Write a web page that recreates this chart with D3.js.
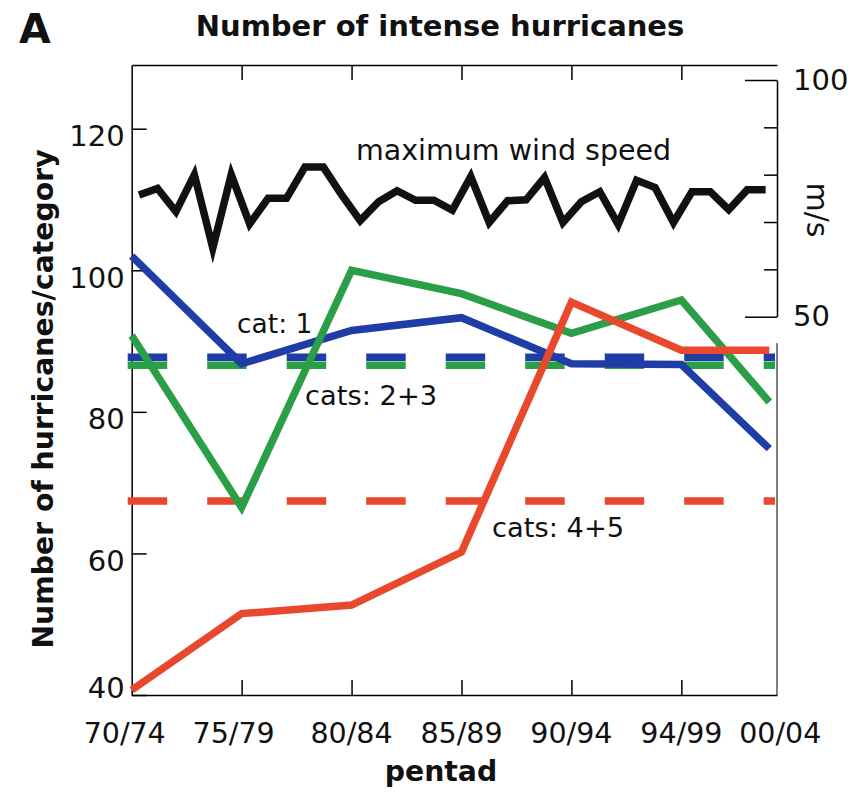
<!DOCTYPE html>
<html>
<head>
<meta charset="utf-8">
<script src="https://cdn.jsdelivr.net/npm/d3@7"></script>
<style>
  body { margin: 0; background: #fff; }
  svg { display: block; font-family: "DejaVu Sans", sans-serif; }
</style>
</head>
<body>
<svg id="chart" width="862" height="794"></svg>
<script>
// pentads on the x axis (the last one is squeezed against the frame in the original)
const pentads = ["70/74", "75/79", "80/84", "85/89", "90/94", "94/99", "00/04"];
const pentadSlot = [0, 1, 2, 3, 4, 5, 5.8];

// number of hurricanes per category group
const cat1 = [102, 86.8, 91.5, 93.3, 86.8, 86.7, 74.8];
const cat23 = [90.8, 66.5, 100, 96.7, 91.1, 95.8, 81.4];
const cat45 = [40.7, 51.5, 52.7, 60.2, 95.5, 88.7, 88.7];

// long-term means (dashed)
const cat1Mean = 87.7;
const cat23Mean = 86.6;
const cat45Mean = 67.4;

// yearly maximum wind speed, m/s (1970-2004)
const windYears = d3.range(1970, 2005);
const windSpeed = [75.7, 77.1, 72.2, 80.0, 64.5, 80.0, 69.6, 75.0, 75.0, 81.6,
                   81.6, 75.7, 70.3, 74.3, 76.6, 74.6, 74.6, 72.5, 79.6, 69.9,
                   74.5, 74.7, 79.4, 69.9, 74.3, 76.4, 69.5, 78.8, 77.3, 69.9,
                   76.4, 76.4, 72.6, 76.8, 76.8];

const leftTicks = [40, 60, 80, 100, 120];
const rightTicks = [50, 60, 70, 80, 90, 100];
const rightLabels = [50, 100];

const colors = {cat1: "#1f3da6", cat23: "#2a9f48", cat45: "#e8482c", wind: "#111"};

const svg = d3.select("#chart");

const x = d3.scaleLinear().domain([0, 5.87]).range([131.7, 777]);
const y = d3.scaleLinear().domain([40, 129]).range([695, 65]);
const yWind = d3.scaleLinear().domain([50, 100]).range([316.7, 80]);
const xYear = d3.scaleLinear().domain([1969.6, 2004.2]).range([x(0), x(5.8)]);

// ----- frame / axes
const left = svg.append("g")
  .attr("transform", `translate(${x(0)},0)`)
  .call(d3.axisLeft(y).tickValues(leftTicks).tickSize(-15).tickSizeOuter(0).tickPadding(7));
left.selectAll("text")
  .attr("font-size", 29).attr("font-family", "DejaVu Sans").attr("fill", "#111")
  .attr("dy", d => d === 40 ? 2 : 17);

svg.append("g")
  .attr("transform", `translate(0,${y(40)})`)
  .call(d3.axisBottom(x).tickValues([1, 2, 3, 4, 5]).tickSize(-15).tickSizeOuter(0).tickFormat(""));

svg.append("g")
  .attr("transform", `translate(0,${y.range()[1]})`)
  .call(d3.axisTop(x).tickValues([1, 2, 3, 4, 5]).tickSize(-15).tickSizeOuter(0).tickFormat(""));

const right = svg.append("g")
  .attr("transform", `translate(${x.range()[1]},0)`)
  .call(d3.axisRight(yWind).tickValues(rightTicks).tickSize(-13).tickSizeOuter(0).tickPadding(16)
    .tickFormat(d => rightLabels.includes(d) ? d : ""));
right.selectAll(".tick line").filter(d => rightLabels.includes(d)).attr("x2", -32);
right.selectAll("text").attr("font-size", 29).attr("font-family", "DejaVu Sans").attr("fill", "#111");

// lower part of the right frame
svg.append("line")
  .attr("x1", x.range()[1]).attr("x2", x.range()[1])
  .attr("y1", yWind(44.4)).attr("y2", y(40))
  .attr("stroke", "#000");

svg.selectAll(".domain, .tick line").attr("stroke-width", 1.5);

// ----- dashed means
const means = [
  {v: cat45Mean, c: colors.cat45},
  {v: cat23Mean, c: colors.cat23},
  {v: cat1Mean, c: colors.cat1}
];
svg.append("g").selectAll("line").data(means).join("line")
  .attr("x1", x(0) - 4).attr("x2", x.range()[1] - 2)
  .attr("y1", d => y(d.v)).attr("y2", d => y(d.v))
  .attr("stroke", d => d.c)
  .attr("stroke-width", 7.5)
  .attr("stroke-dasharray", "39.5,40");

// ----- category lines
const line = d3.line().x((d, i) => x(pentadSlot[i])).y(d => y(d));
[[cat1, colors.cat1], [cat23, colors.cat23], [cat45, colors.cat45]].forEach(([vals, c]) => {
  svg.append("path")
    .datum(vals)
    .attr("d", line)
    .attr("fill", "none")
    .attr("stroke", c)
    .attr("stroke-width", 7.5)
    .attr("stroke-linejoin", "miter");
});

// ----- wind speed
const windLine = d3.line().x((d, i) => xYear(windYears[i])).y(d => yWind(d));
svg.append("path")
  .datum(windSpeed)
  .attr("d", windLine)
  .attr("fill", "none")
  .attr("stroke", colors.wind)
  .attr("stroke-width", 7.5)
  .attr("stroke-linejoin", "miter")
  .attr("stroke-miterlimit", 10);

// ----- x labels (edge labels sit a bit off their ticks in the original)
const labelNudge = i => i === 0 ? -7 : i === 1 ? -8 : i === pentads.length - 1 ? 11 : 0;
svg.append("g").selectAll("text").data(pentads).join("text")
  .attr("x", (d, i) => x(pentadSlot[i]) + labelNudge(i))
  .attr("y", 743)
  .attr("text-anchor", "middle")
  .attr("font-size", 28.5)
  .attr("fill", "#111")
  .text(d => d);

// ----- texts
const txt = (s, xx, yy, size, opts = {}) => {
  const t = svg.append("text")
    .attr("x", xx).attr("y", yy)
    .attr("font-size", size)
    .attr("fill", "#111")
    .text(s);
  if (opts.bold) t.attr("font-weight", "bold");
  if (opts.anchor) t.attr("text-anchor", opts.anchor);
  if (opts.transform) t.attr("transform", opts.transform);
  return t;
};

txt("A", 19, 43, 41, {bold: true});
txt("Number of intense hurricanes", 440, 36, 29, {bold: true, anchor: "middle"});
txt("pentad", 441, 781, 28.3, {bold: true, anchor: "middle"});
txt("Number of hurricanes/category", 0, 0, 28.3, {bold: true, anchor: "middle", transform: "translate(53,399) rotate(-90)"});
txt("m/s", 0, 0, 30, {anchor: "middle", transform: "translate(807,210) rotate(90)"});
txt("maximum wind speed", 356, 160, 28.5);
txt("cat: 1", 237, 333, 26.5);
txt("cats: 2+3", 305, 405, 27.3);
txt("cats: 4+5", 492, 537, 27.3);
</script>
</body>
</html>
